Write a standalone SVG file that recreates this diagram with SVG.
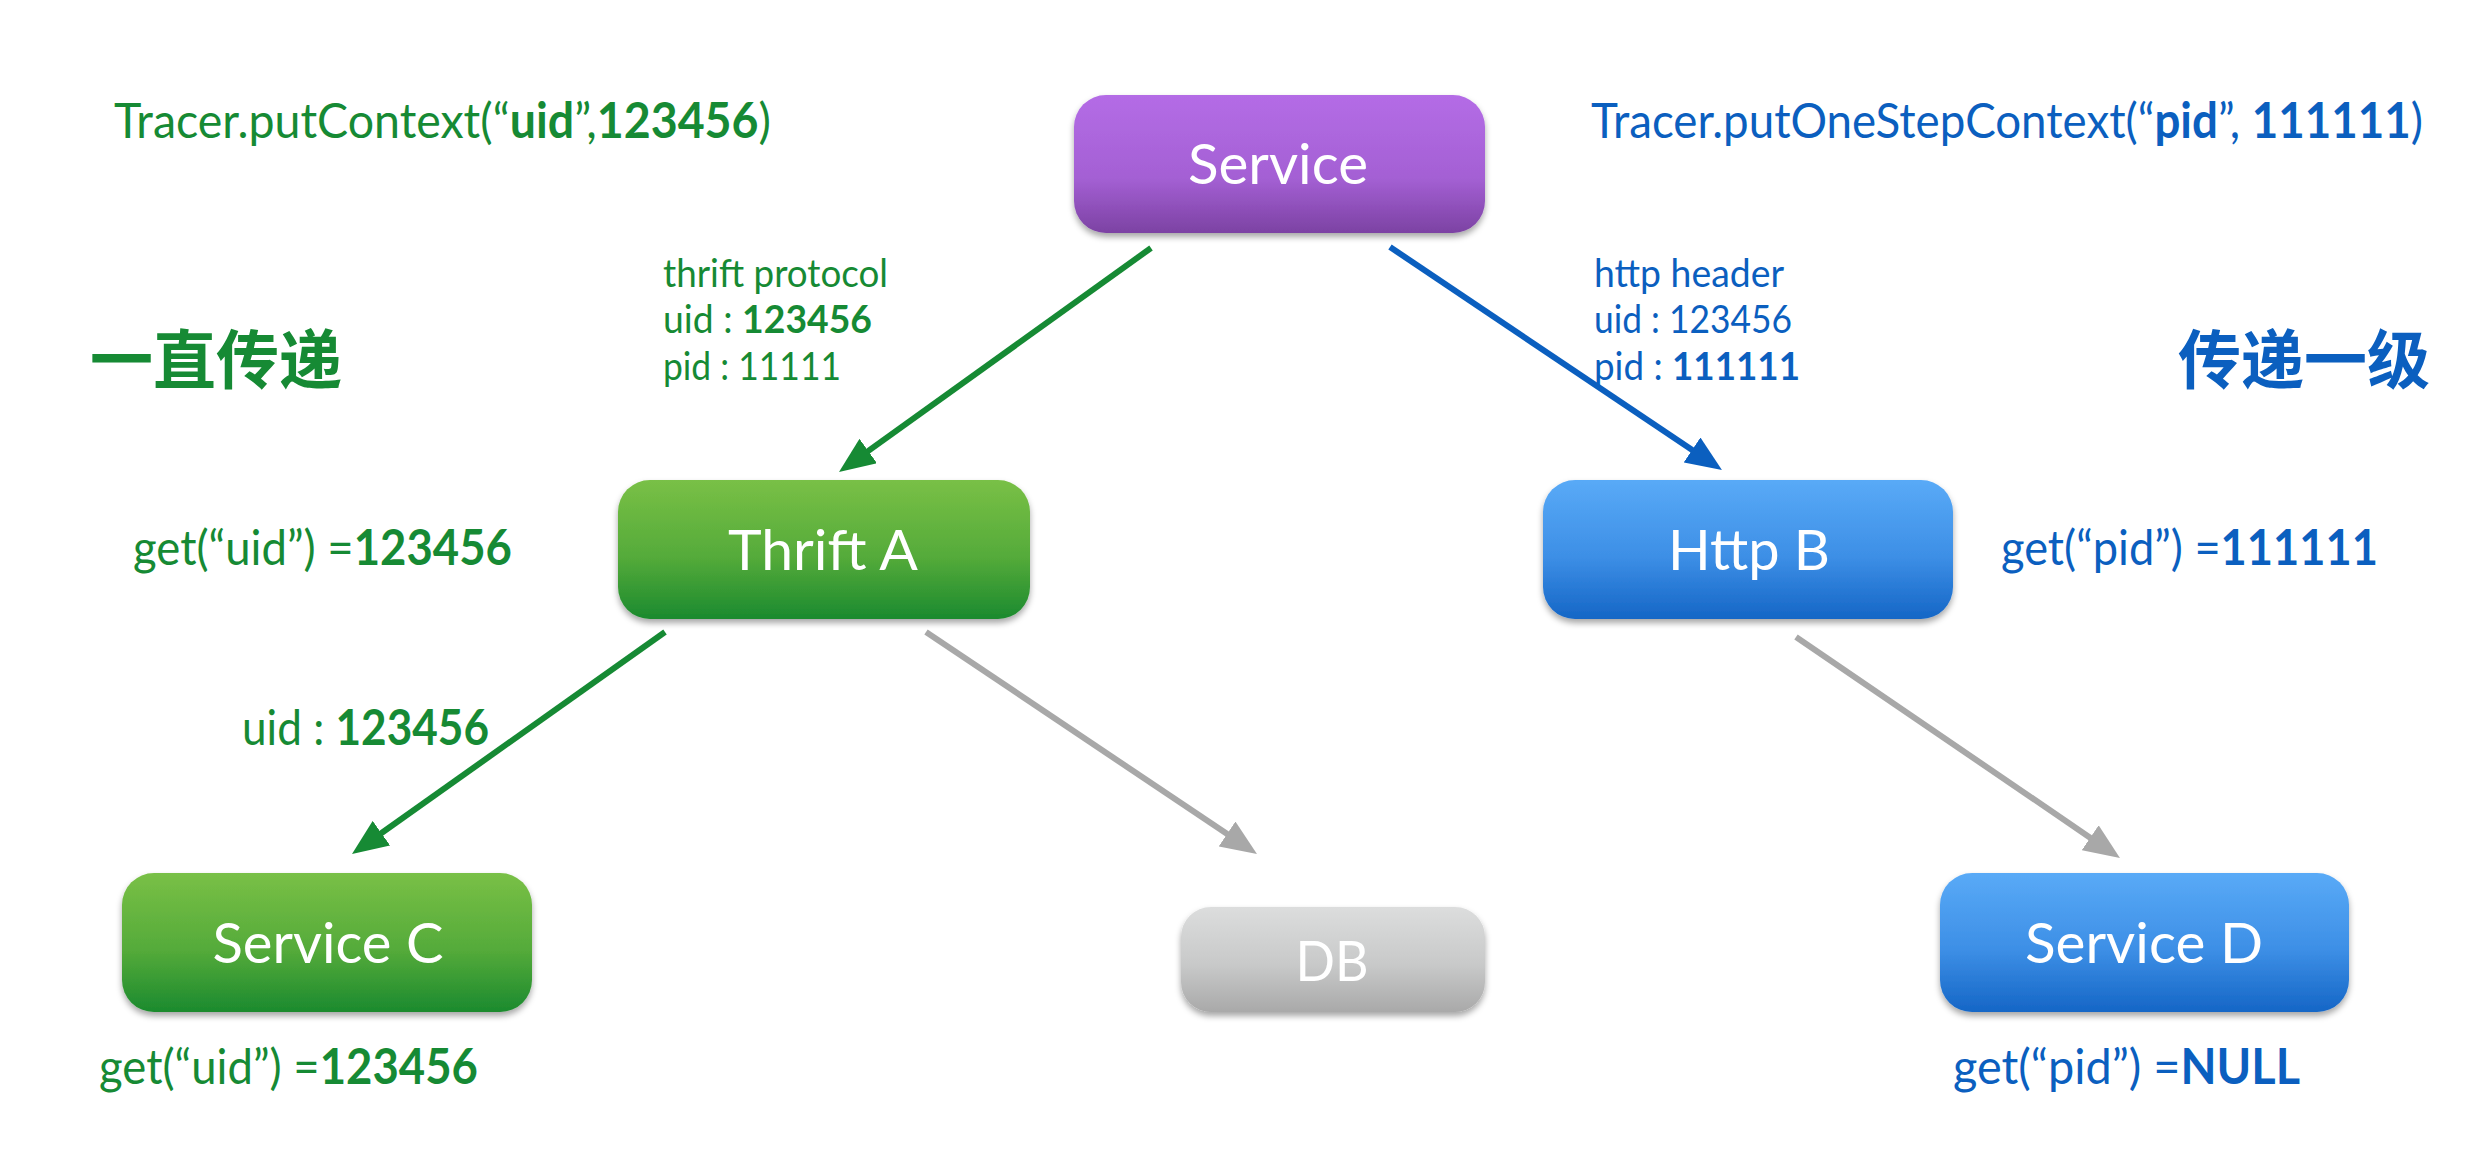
<svg xmlns="http://www.w3.org/2000/svg" width="2482" height="1168" viewBox="0 0 2482 1168">
  <defs>
    <style>
      .ann { font-family: Lato, "Open Sans", sans-serif; font-size: 49px; }
      .sm { font-family: Lato, "Open Sans", sans-serif; font-size: 38px; }
      .b { font-weight: 700; }
      .g { fill: #168a34; }
      .bl { fill: #0b5fbf; }
      .lbl { font-family: Lato, "Open Sans", sans-serif; font-size: 56px; fill: #ffffff; text-anchor: middle; }
      .cjk { font-family: "Noto Sans CJK SC", sans-serif; font-size: 64px; font-weight: 700; }
      .ln { stroke-width: 6; fill: none; }
    </style>
    <linearGradient id="gPurple" x1="0" y1="0" x2="0" y2="1">
      <stop offset="0" stop-color="#b46ce6"/>
      <stop offset="0.6" stop-color="#a460d4"/>
      <stop offset="1" stop-color="#7c42a3"/>
    </linearGradient>
    <linearGradient id="gGreen" x1="0" y1="0" x2="0" y2="1">
      <stop offset="0" stop-color="#79c046"/>
      <stop offset="0.55" stop-color="#55ab3a"/>
      <stop offset="1" stop-color="#1b8a2e"/>
    </linearGradient>
    <linearGradient id="gBlue" x1="0" y1="0" x2="0" y2="1">
      <stop offset="0" stop-color="#59aaf7"/>
      <stop offset="0.55" stop-color="#3d8fe6"/>
      <stop offset="1" stop-color="#1566c6"/>
    </linearGradient>
    <linearGradient id="gGray" x1="0" y1="0" x2="0" y2="1">
      <stop offset="0" stop-color="#dcdddd"/>
      <stop offset="0.55" stop-color="#c8c9c9"/>
      <stop offset="1" stop-color="#a9a9a9"/>
    </linearGradient>
    <filter id="shadow" x="-10%" y="-10%" width="120%" height="130%">
      <feDropShadow dx="0" dy="4" stdDeviation="3" flood-color="#000" flood-opacity="0.35"/>
    </filter>
    <marker id="aGreen" viewBox="0 0 36 30" refX="11" refY="15" markerWidth="36" markerHeight="30" markerUnits="userSpaceOnUse" orient="auto">
      <path d="M0,0 L36,15 L0,30 z" fill="#168a34"/>
    </marker>
    <marker id="aBlue" viewBox="0 0 36 30" refX="11" refY="15" markerWidth="36" markerHeight="30" markerUnits="userSpaceOnUse" orient="auto">
      <path d="M0,0 L36,15 L0,30 z" fill="#0b5fbf"/>
    </marker>
    <marker id="aGray" viewBox="0 0 36 30" refX="11" refY="15" markerWidth="36" markerHeight="30" markerUnits="userSpaceOnUse" orient="auto">
      <path d="M0,0 L36,15 L0,30 z" fill="#a8a8a8"/>
    </marker>
  </defs>

  <rect x="0" y="0" width="2482" height="1168" fill="#ffffff"/>

  <g id="connectors">
    <line class="ln" x1="1151" y1="248" x2="859.3" y2="457.4" stroke="#168a34" marker-end="url(#aGreen)"/>
    <line class="ln" x1="1390" y1="247" x2="1701.2" y2="456.1" stroke="#0b5fbf" marker-end="url(#aBlue)"/>
    <line class="ln" x1="665" y1="632" x2="372.4" y2="839.5" stroke="#168a34" marker-end="url(#aGreen)"/>
    <line class="ln" x1="926" y1="632" x2="1236.2" y2="840.1" stroke="#a8a8a8" marker-end="url(#aGray)"/>
    <line class="ln" x1="1796" y1="637" x2="2099.3" y2="843.9" stroke="#a8a8a8" marker-end="url(#aGray)"/>
  </g>

  <g id="node-service">
    <rect x="1074" y="95" width="411" height="138" rx="32" fill="url(#gPurple)" filter="url(#shadow)"/>
    <text class="lbl" x="1278" y="184" textLength="180" lengthAdjust="spacingAndGlyphs">Service</text>
  </g>
  <g id="node-thrift-a">
    <rect x="618" y="480" width="412" height="139" rx="32" fill="url(#gGreen)" filter="url(#shadow)"/>
    <text class="lbl" x="823" y="570" textLength="190" lengthAdjust="spacingAndGlyphs">Thrift A</text>
  </g>
  <g id="node-http-b">
    <rect x="1543" y="480" width="410" height="139" rx="32" fill="url(#gBlue)" filter="url(#shadow)"/>
    <text class="lbl" x="1749" y="570" textLength="162" lengthAdjust="spacingAndGlyphs">Http B</text>
  </g>
  <g id="node-service-c">
    <rect x="122" y="873" width="410" height="139" rx="32" fill="url(#gGreen)" filter="url(#shadow)"/>
    <text class="lbl" x="328" y="963" textLength="231" lengthAdjust="spacingAndGlyphs">Service C</text>
  </g>
  <g id="node-db">
    <rect x="1181" y="907" width="304" height="105" rx="30" fill="url(#gGray)" filter="url(#shadow)"/>
    <text class="lbl" x="1332" y="981" textLength="73" lengthAdjust="spacingAndGlyphs">DB</text>
  </g>
  <g id="node-service-d">
    <rect x="1940" y="873" width="409" height="139" rx="32" fill="url(#gBlue)" filter="url(#shadow)"/>
    <text class="lbl" x="2144" y="963" textLength="238" lengthAdjust="spacingAndGlyphs">Service D</text>
  </g>

  <g id="annotations">
    <text class="ann g" x="114" y="138" textLength="657" lengthAdjust="spacingAndGlyphs">Tracer.putContext(“<tspan class="b">uid</tspan>”,<tspan class="b">123456</tspan>)</text>
    <text class="ann bl" x="1591" y="138" textLength="832" lengthAdjust="spacingAndGlyphs">Tracer.putOneStepContext(“<tspan class="b">pid</tspan>”, <tspan class="b">111111</tspan>)</text>

    <text class="sm g" x="663" y="287" textLength="225" lengthAdjust="spacingAndGlyphs">thrift protocol</text>
    <text class="sm g" x="663" y="333" textLength="209" lengthAdjust="spacingAndGlyphs">uid : <tspan class="b">123456</tspan></text>
    <text class="sm g" x="663" y="380" textLength="178" lengthAdjust="spacingAndGlyphs">pid : 11111</text>

    <text class="sm bl" x="1594" y="287" textLength="190" lengthAdjust="spacingAndGlyphs">http header</text>
    <text class="sm bl" x="1594" y="333" textLength="198" lengthAdjust="spacingAndGlyphs">uid : 123456</text>
    <text class="sm bl" x="1594" y="380" textLength="206" lengthAdjust="spacingAndGlyphs">pid : <tspan class="b">111111</tspan></text>

    <text class="cjk g" x="90" y="383" textLength="252" lengthAdjust="spacingAndGlyphs">一直传递</text>
    <text class="cjk bl" x="2178" y="383" textLength="252" lengthAdjust="spacingAndGlyphs">传递一级</text>

    <text class="ann g" x="133" y="565" textLength="379" lengthAdjust="spacingAndGlyphs">get(“uid”) =<tspan class="b">123456</tspan></text>
    <text class="ann g" x="242" y="745" textLength="247" lengthAdjust="spacingAndGlyphs">uid : <tspan class="b">123456</tspan></text>
    <text class="ann bl" x="2001" y="565" textLength="377" lengthAdjust="spacingAndGlyphs">get(“pid”) =<tspan class="b">111111</tspan></text>
    <text class="ann g" x="99" y="1084" textLength="379" lengthAdjust="spacingAndGlyphs">get(“uid”) =<tspan class="b">123456</tspan></text>
    <text class="ann bl" x="1953" y="1084" textLength="347" lengthAdjust="spacingAndGlyphs">get(“pid”) =<tspan class="b">NULL</tspan></text>
  </g>
</svg>
